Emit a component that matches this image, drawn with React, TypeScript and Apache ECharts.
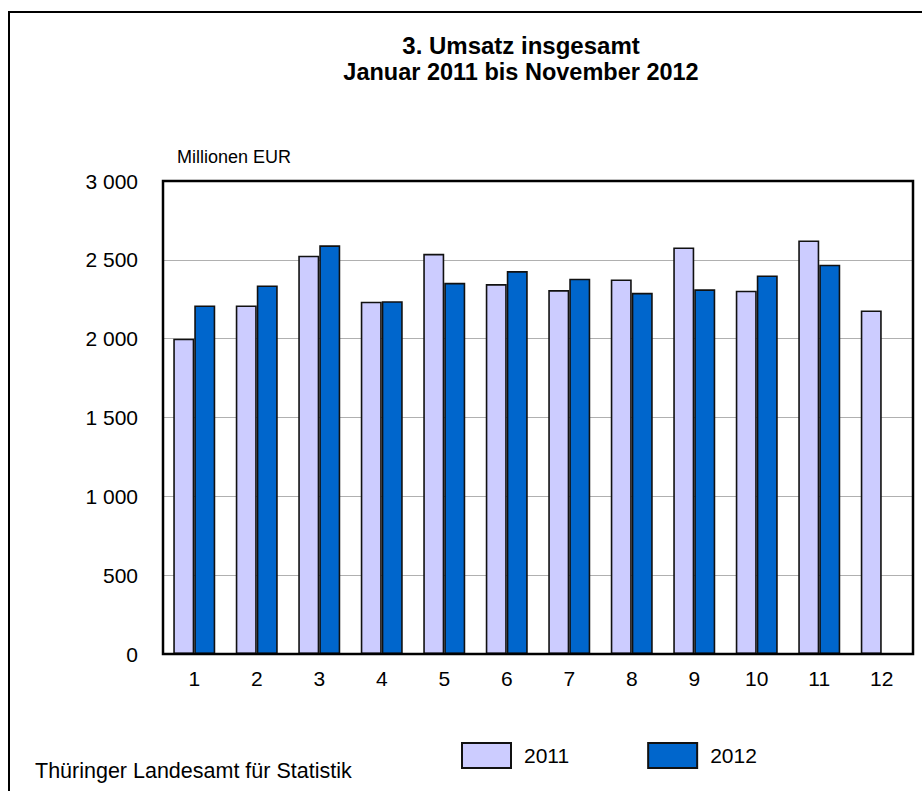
import React, { useEffect, useRef } from "react";
import * as echarts from "echarts";

const categories = ["1", "2", "3", "4", "5", "6", "7", "8", "9", "10", "11", "12"];
const values2011 = [2000, 2211, 2526, 2234, 2538, 2346, 2308, 2376, 2579, 2304, 2623, 2179];
const values2012 = [2211, 2338, 2592, 2238, 2354, 2429, 2380, 2291, 2313, 2401, 2469, null];
const yTicks = { min: 0, max: 3000, interval: 500 };
const titleLine1 = "3. Umsatz insgesamt";
const titleLine2 = "Januar 2011 bis November 2012";
const unitLabel = "Millionen EUR";
const sourceLabel = "Thüringer Landesamt für Statistik";

const FONT = "'Liberation Sans', Arial, sans-serif";

const GRID = { left: 163, top: 181, right: 9, bottom: 137 };
const W = 922;
const H = 791;

function fmt(v: number): string {
  if (v >= 1000) {
    return Math.floor(v / 1000) + " " + String(v % 1000).padStart(3, "0");
  }
  return String(v);
}

export default function App() {
  const ref = useRef<HTMLDivElement>(null);
  useEffect(() => {
    if (!ref.current) return;
    const chart = echarts.init(ref.current, undefined, { renderer: "svg" });
    chart.setOption({
      animation: false,
      backgroundColor: "#ffffff",
      textStyle: { fontFamily: FONT },
      grid: {
        left: GRID.left,
        top: GRID.top,
        right: GRID.right,
        bottom: GRID.bottom,
        show: false,
        containLabel: false,
      },
      legend: {
        left: 461,
        top: 742,
        padding: 0,
        itemWidth: 49,
        itemHeight: 25,
        itemGap: 78,
        icon: "rect",
        textStyle: { fontSize: 21, color: "#000", fontFamily: FONT, padding: [0, 0, 0, 8] },
        data: ["2011", "2012"],
      },
      xAxis: {
        type: "category",
        data: categories,
        axisTick: { show: false },
        axisLine: { show: false },
        axisLabel: { fontSize: 21, color: "#000", margin: 14, fontFamily: FONT },
        splitLine: { show: false },
      },
      yAxis: {
        type: "value",
        min: yTicks.min,
        max: yTicks.max,
        interval: yTicks.interval,
        axisLine: { show: false },
        axisTick: { show: false },
        axisLabel: {
          fontSize: 21,
          color: "#000",
          margin: 25,
          fontFamily: FONT,
          formatter: (v: number) => fmt(v),
        },
        splitLine: { show: true, lineStyle: { color: "#b0b0b0", width: 1 } },
      },
      series: [
        {
          name: "2011",
          type: "bar",
          data: values2011,
          barWidth: 21,
          barGap: "0%",
          itemStyle: { color: "#CCCCFF", borderColor: "#111111", borderWidth: 1.6 },
        },
        {
          name: "2012",
          type: "bar",
          data: values2012,
          barWidth: 21,
          barGap: "0%",
          itemStyle: { color: "#0066CC", borderColor: "#111111", borderWidth: 1.6 },
        },
      ],
      graphic: [
        {
          type: "rect",
          shape: { x: 9, y: 12, width: 1000, height: 1000 },
          style: { fill: "none", stroke: "#000", lineWidth: 2 },
          silent: true,
        },
        {
          type: "rect",
          shape: {
            x: GRID.left,
            y: GRID.top,
            width: W - GRID.left - GRID.right,
            height: H - GRID.top - GRID.bottom,
          },
          style: { fill: "none", stroke: "#000", lineWidth: 2.5 },
          silent: true,
          z: 100,
        },
        {
          type: "text",
          x: 521,
          y: 45,
          style: {
            text: titleLine1,
            font: "bold 24px " + FONT,
            fill: "#000",
            textAlign: "center",
            textVerticalAlign: "middle",
          },
        },
        {
          type: "text",
          x: 521,
          y: 72,
          style: {
            text: titleLine2,
            font: "bold 23.5px " + FONT,
            fill: "#000",
            textAlign: "center",
            textVerticalAlign: "middle",
          },
        },
        {
          type: "text",
          x: 177,
          y: 157,
          style: {
            text: unitLabel,
            font: "18px " + FONT,
            fill: "#000",
            textAlign: "left",
            textVerticalAlign: "middle",
          },
        },
        {
          type: "text",
          x: 35,
          y: 771,
          style: {
            text: sourceLabel,
            font: "21.5px " + FONT,
            fill: "#000",
            textAlign: "left",
            textVerticalAlign: "middle",
          },
        },
      ],
    });
    return () => chart.dispose();
  }, []);
  return (
    <div
      ref={ref}
      style={{ position: "absolute", left: 0, top: 0, width: W, height: H }}
    />
  );
}
